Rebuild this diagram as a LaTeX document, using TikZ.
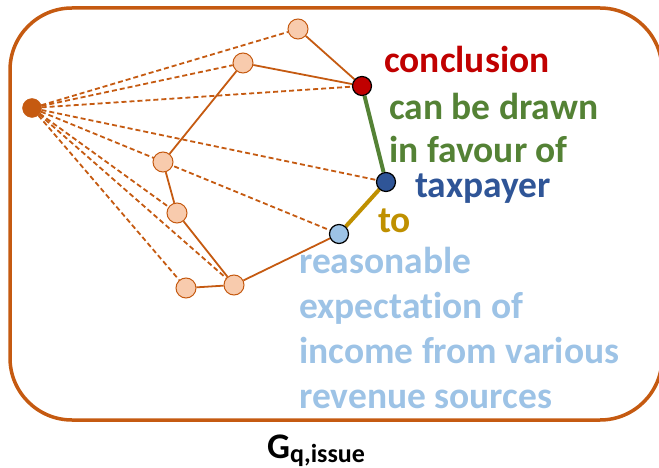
\documentclass[tikz,border=0pt]{standalone}
\usepackage{fontspec}
\setmainfont[Ligatures=NoCommon]{Carlito}
\usetikzlibrary{backgrounds}
\definecolor{rust}{HTML}{C55A11}
\definecolor{peachfill}{HTML}{F8CBAD}
\definecolor{cred}{HTML}{C00000}
\definecolor{cgreen}{HTML}{548235}
\definecolor{cblue}{HTML}{2F5597}
\definecolor{cgold}{HTML}{BF9000}
\definecolor{clight}{HTML}{9DC3E6}
\tikzset{
  hubdot/.style={circle, fill=rust, draw=rust, minimum size=19pt, inner sep=0pt},
  peach/.style={circle, fill=peachfill, draw=rust, line width=1pt, minimum size=20pt, inner sep=0pt},
  keydot/.style={circle, draw=black, line width=1.2pt, minimum size=19pt, inner sep=0pt},
  link/.style={draw=rust, line width=1.8pt},
  hint/.style={draw=rust, line width=1.8pt, dash pattern=on 5pt off 3pt},
  label/.style={anchor=base west, inner sep=0pt, font=\bfseries\fontsize{37.5}{44}\selectfont},
}
\begin{document}
\begin{tikzpicture}[x=1pt,y=-1pt]
\useasboundingbox (0,0) rectangle (659,468);
% frame around the graph
\draw[rust, line width=3.5pt, rounded corners=62pt] (10,8) rectangle (662,420);

% vertices
\node[hubdot] (h) at (32,108) {};
\node[peach] (p1) at (298,29) {};
\node[peach] (p2) at (243,63) {};
\node[peach] (p3) at (163,162) {};
\node[peach] (p4) at (177,213) {};
\node[peach] (p5) at (186,288) {};
\node[peach] (p6) at (234,285) {};
\node[keydot, fill=cred] (c) at (362,86) {};
\node[keydot, fill=cblue] (t) at (386,182) {};
\node[keydot, fill=clight] (r) at (339,234) {};

% edges, kept behind the vertices
\begin{pgfonlayer}{background}
  \foreach \v in {p1,p2,c,t,r,p4,p6,p5}
    \draw[hint] (h) -- (\v);
  \draw[link] (p1) -- (c);
  \draw[link] (p2) -- (c);
  \draw[link] (p2) -- (p3);
  \draw[link] (p3) -- (p4);
  \draw[link] (p4) -- (p6);
  \draw[link] (p5) -- (p6);
  \draw[link] (p6) -- (r);
  \draw[cgreen, line width=4pt] (c) -- (t);
  \draw[cgold, line width=4pt] (t) -- (r);
\end{pgfonlayer}

% phrase labels
\node[label, text=cred] (w1) at (384,73) {conclusion};
\node[label, text=cgreen] (w2) at (389,120) {can be drawn};
\node[label, text=cgreen] (w3) at (389,163) {in favour of};
\node[label, text=cblue] (w4) at (415,197) {taxpayer};
\node[label, text=cgold] (w5) at (378,233) {to};
\node[label, text=clight] (w6) at (299,273) {reasonable};
\node[label, text=clight] (w7) at (299,318) {expectation of};
\node[label, text=clight] (w8) at (299,363) {income from various};
\node[label, text=clight] (w9) at (299,408) {revenue sources};

% graph name
\node[anchor=base west, inner sep=0pt] (g) at (267,458)
  {\bfseries\fontsize{36}{42}\selectfont G\raisebox{-4pt}{\fontsize{26}{30}\selectfont q,issue}};
\end{tikzpicture}
\end{document}
